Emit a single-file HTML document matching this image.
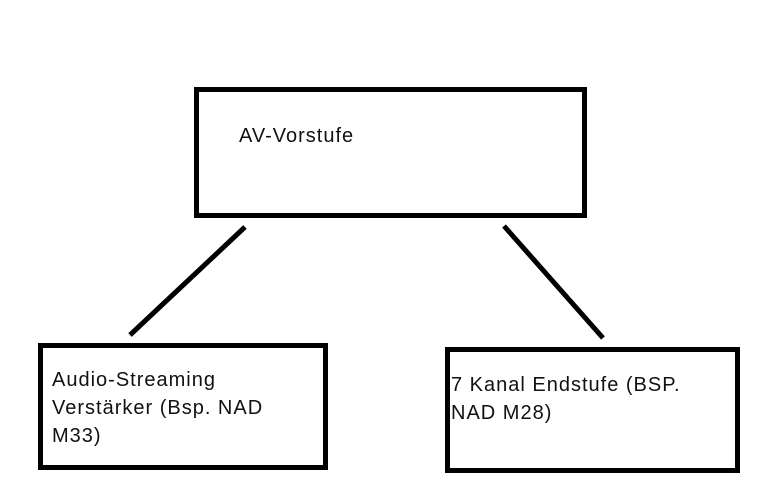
<!DOCTYPE html>
<html><head><meta charset="utf-8"><style>
body{margin:0;width:757px;height:502px;background:#fff;position:relative;overflow:hidden;font-family:"Liberation Sans",sans-serif;color:#111}
.b{position:absolute;border:5px solid #000;box-sizing:border-box}
.t{position:absolute;font-size:20px;letter-spacing:1px;line-height:28px;white-space:nowrap}
</style></head><body>
<div class="b" style="left:194px;top:87px;width:393px;height:131px"></div>
<div class="b" style="left:38px;top:343px;width:290px;height:127px"></div>
<div class="b" style="left:445px;top:347px;width:295px;height:126px"></div>
<svg width="757" height="502" style="position:absolute;left:0;top:0">
<line x1="245" y1="227" x2="130" y2="335" stroke="#000" stroke-width="5"/>
<line x1="504" y1="226" x2="603" y2="338" stroke="#000" stroke-width="5"/>
</svg>
<div class="t" style="left:239px;top:122px">AV-Vorstufe</div>
<div class="t" style="left:52px;top:366px">Audio-Streaming<br>Verstärker (Bsp. NAD<br>M33)</div>
<div class="t" style="left:451px;top:371px">7 Kanal Endstufe (BSP.<br>NAD M28)</div>
</body></html>
